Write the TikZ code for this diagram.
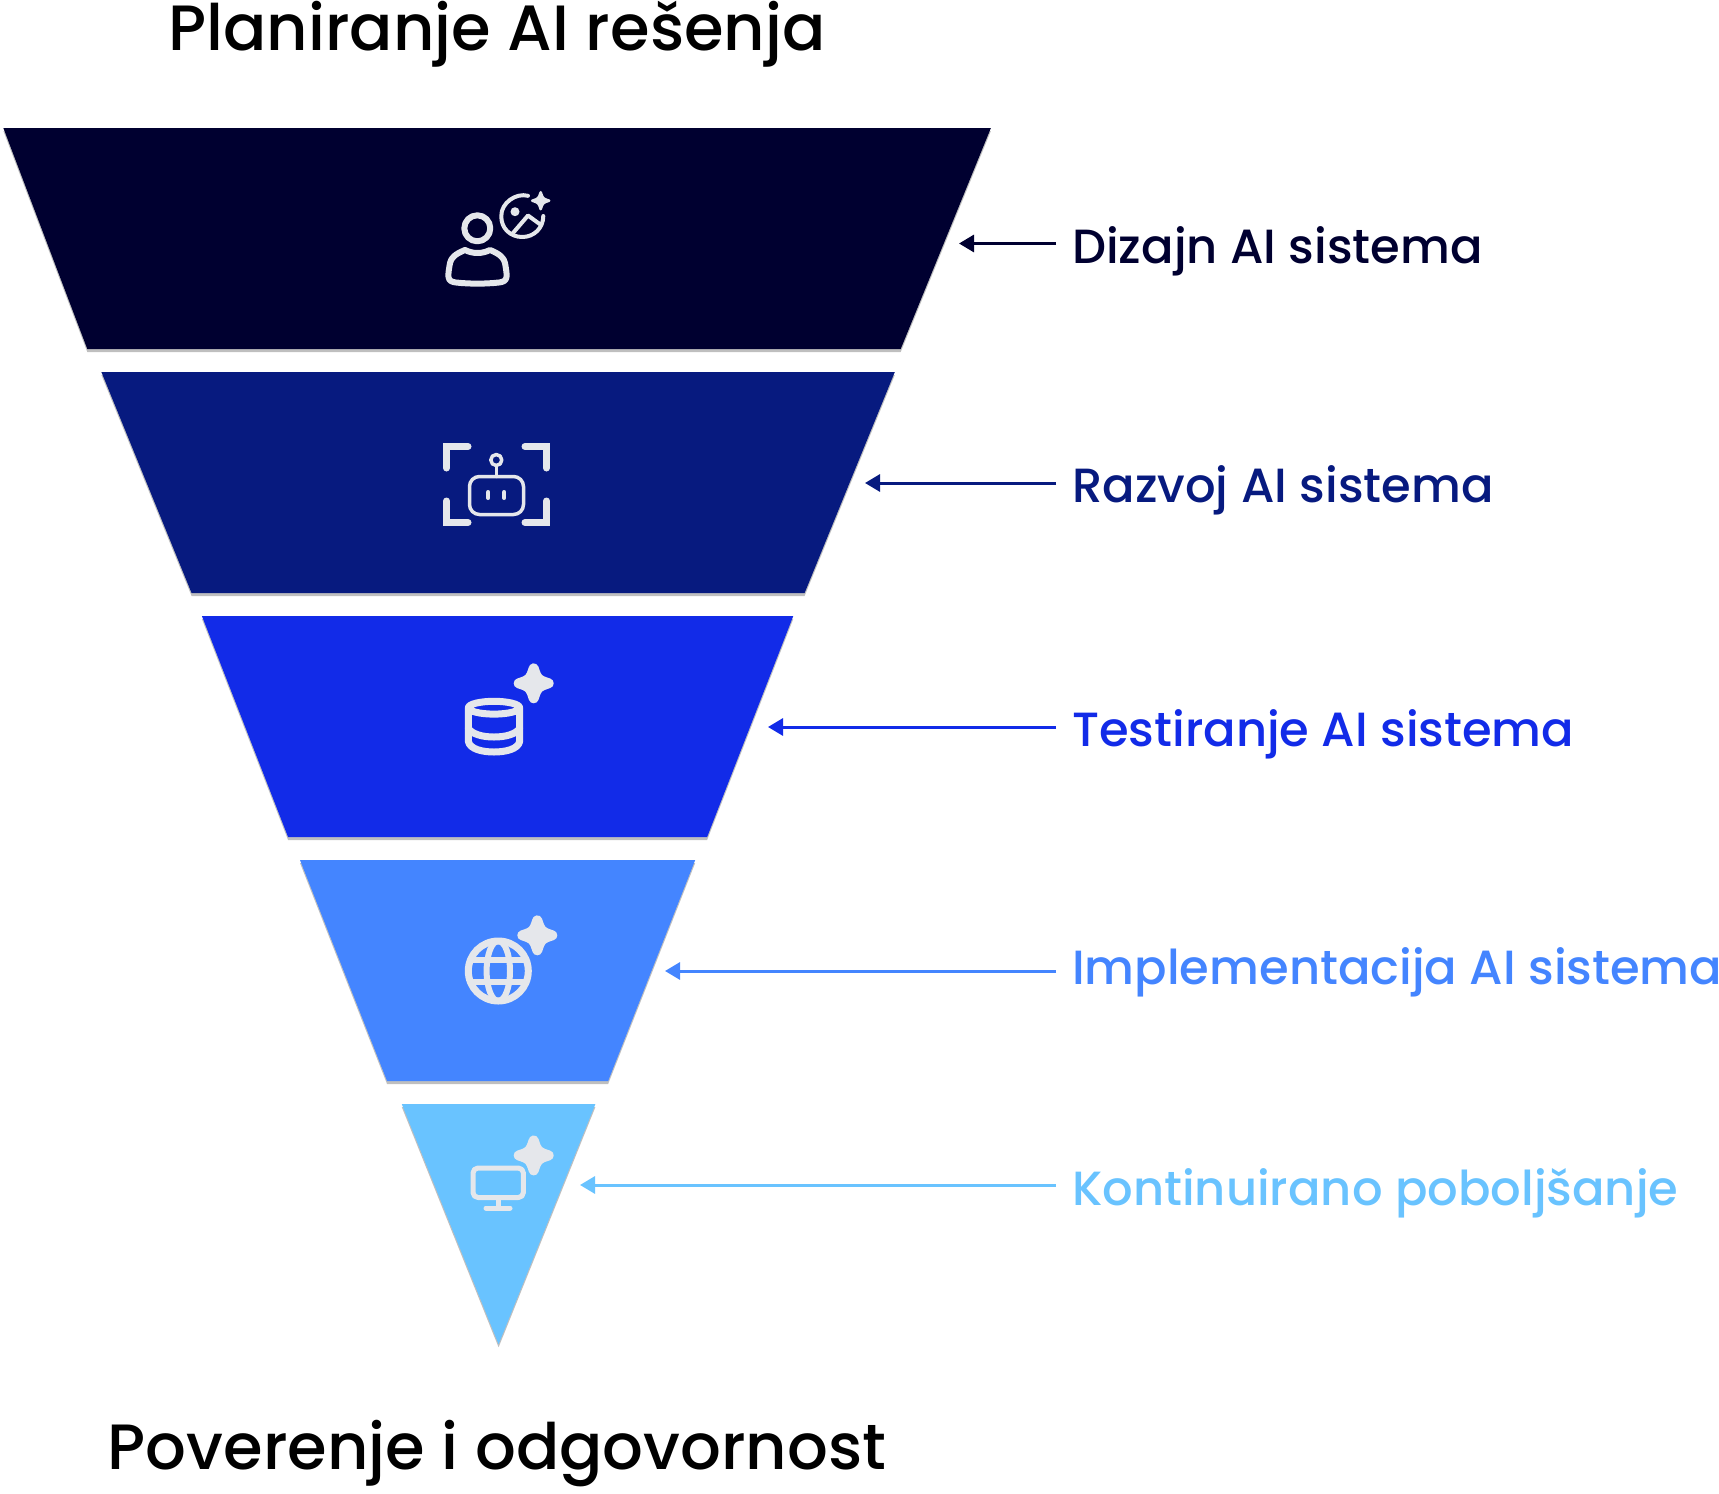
\documentclass[tikz,border=0pt]{standalone}
\usepackage{fontspec}
\setmainfont{Poppins}
\newfontfamily\titlefont{Poppins Medium}
\usetikzlibrary{shapes.geometric,arrows.meta,positioning,shadows}

\definecolor{navyA}{HTML}{000030}
\definecolor{navyB}{HTML}{071A7F}
\definecolor{blueC}{HTML}{122BE8}
\definecolor{blueD}{HTML}{4485FF}
\definecolor{blueE}{HTML}{69C3FF}
\definecolor{iconGray}{HTML}{E5E7EB}

\begin{document}
\begin{tikzpicture}[
    x=1pt, y=-1pt,
    layer/.style={trapezium, shape border rotate=180, draw=none, inner sep=0pt, outer sep=0pt, text height=221pt, text depth=0pt,
        drop shadow={shadow xshift=0pt, shadow yshift=-3pt, opacity=.25, fill=black}},
    tag/.style={anchor=west, inner xsep=16pt, inner ysep=0pt, text height=45pt, text depth=6pt, font=\titlefont\fontsize{48}{52}\selectfont, text=#1},
    heading/.style={anchor=base, inner sep=0pt, font=\titlefont\fontsize{64}{70}\selectfont},
    arrow/.style={-{Triangle[length=15pt,width=17pt]}, line width=3pt, draw=#1},
    icon/.style={draw=iconGray, line cap=round, line join=round, line width=#1},
    icon/.default=5pt,
    sparkle/.pic={
        \filldraw[draw=iconGray, fill=iconGray, line join=round]
            (0,-1) .. controls (.25,-.25) .. (1,0) .. controls (.25,.25) .. (0,1)
            .. controls (-.25,.25) .. (-1,0) .. controls (-.25,-.25) .. cycle;
    },
    node distance=23pt
]
\useasboundingbox (0,0) rectangle (1719,1494);

% funnel layers
\node[layer, fill=navyA, text width=813.4pt, trapezium right angle=69.2, trapezium left angle=67.8] (design) at (494,238.5) {};
\node[layer, fill=navyB, text width=613pt, trapezium angle=67.8, below=of design, xshift=4pt] (develop) {};
\node[layer, fill=blueC, text width=419pt, trapezium angle=68.7, below=of develop, xshift=-.5pt] (testing) {};
\node[layer, fill=blueD, text width=221pt, trapezium angle=68.5, below=of testing] (deploy) {};
\node[layer, fill=blueE, text width=.1pt, text height=240pt, trapezium angle=68.05, below=of deploy, xshift=1pt] (improve) {};

% headings
\node[heading] (planning) at (497,50) {Planiranje AI rešenja};
\node[heading] (trust) at (497,1469) {Poverenje i odgovornost};

% side labels
\node[tag=navyA] (lblDesign) at (1056,243.5) {Dizajn AI sistema};
\node[tag=navyB] (lblDevelop) at (1056,483) {Razvoj AI sistema};
\node[tag=blueC] (lblTesting) at (1056,727) {Testiranje AI sistema};
\node[tag=blueD, text height=39pt, text depth=12pt] (lblDeploy) at (1056,971) {Implementacija AI sistema};
\node[tag=blueE, text height=47pt, text depth=6pt] (lblImprove) at (1056,1185) {Kontinuirano poboljšanje};

% arrow tips
\coordinate (tipDesign) at (959,243.5);
\coordinate (tipDevelop) at (865,483);
\coordinate (tipTesting) at (768,727);
\coordinate (tipDeploy) at (665,971);
\coordinate (tipImprove) at (580,1185);

% arrows
\draw[arrow=navyA] (lblDesign.west) -- (tipDesign);
\draw[arrow=navyB] (lblDevelop.west) -- (tipDevelop);
\draw[arrow=blueC] (lblTesting.west) -- (tipTesting);
\draw[arrow=blueD] (lblDeploy.west) -- (tipDeploy);
\draw[arrow=blueE] (lblImprove.west) -- (tipImprove);

% icon: person and picture
\draw[icon=6pt] (477.3,228.3) circle (13);
\draw[icon=6pt] (465,250) .. controls (455,254) and (451,258) .. (450,263) .. controls (449,269) and (448,274) .. (448.5,277)
    .. controls (449,281) and (452,282) .. (456,282.5) .. controls (470,284) and (485,284) .. (499,282.5)
    .. controls (503,282) and (506,281) .. (506.5,277) .. controls (507,274) and (506,269) .. (505,263)
    .. controls (504,258) and (500,254) .. (490,250) .. controls (482,254) and (473,254) .. (465,250);
\draw[icon=4pt] (528,195.8) .. controls (516,192.5) and (501,203) .. (501.3,216) .. controls (501,228) and (510,237) .. (522.3,237)
    .. controls (534,237) and (543.3,228) .. (543.3,216);
\draw[icon=4pt] (513,233) -- (528,215.5) -- (541,225);
\fill[iconGray] (515,211.7) circle (4.5);
\pic[scale=8.5, line width=2.5pt] at (540.7,200.7) {sparkle};

% icon: robot in frame
\draw[icon=7pt, line join=miter] (446.5,468) -- (446.5,446.5) -- (468,446.5);
\draw[icon=7pt, line join=miter] (525,446.5) -- (546.5,446.5) -- (546.5,468);
\draw[icon=7pt, line join=miter] (446.5,501) -- (446.5,522.5) -- (468,522.5);
\draw[icon=7pt, line join=miter] (525,522.5) -- (546.5,522.5) -- (546.5,501);
\draw[icon=3.5pt, rounded corners=10pt] (469.5,476.5) rectangle (523.5,514.5);
\draw[icon=3.5pt] (496.3,460) circle (5.5);
\draw[icon=3.5pt] (496.3,465.5) -- (496.3,476.5);
\draw[icon=4pt] (488.3,492) -- (488.3,498);
\draw[icon=4pt] (504.3,492) -- (504.3,498);

% icon: database
\draw[icon=7pt] (494,707.7) ellipse [x radius=25.6, y radius=6.4];
\draw[icon=7pt] (468.4,707.7) -- (468.4,741.6) .. controls (470,749) and (482,752) .. (494,752)
    .. controls (506,752) and (518,749) .. (519.6,741.6) -- (519.6,707.7);
\draw[icon=7pt] (468.4,728.4) .. controls (472,734) and (482,737) .. (494,737) .. controls (506,737) and (516,734) .. (519.6,728.4);
\pic[scale=15, line width=10pt] at (533.7,683.3) {sparkle};

% icon: globe
\draw[icon=7pt] (498.3,971) circle (30);
\draw[icon=6pt] (498.3,971) ellipse [x radius=11.7, y radius=30];
\draw[icon=6pt] (470.3,960) -- (526.3,960);
\draw[icon=6pt] (470.3,982) -- (526.3,982);
\pic[scale=15, line width=10pt] at (537.3,935.3) {sparkle};

% icon: monitor
\draw[icon=5pt, rounded corners=5pt] (473,1168) rectangle (523.4,1197.5);
\draw[icon=5pt] (498,1197.5) -- (498,1208);
\draw[icon=5pt] (486,1208) -- (510,1208);
\pic[scale=15, line width=10pt] at (533.7,1155.4) {sparkle};

\end{tikzpicture}
\end{document}
